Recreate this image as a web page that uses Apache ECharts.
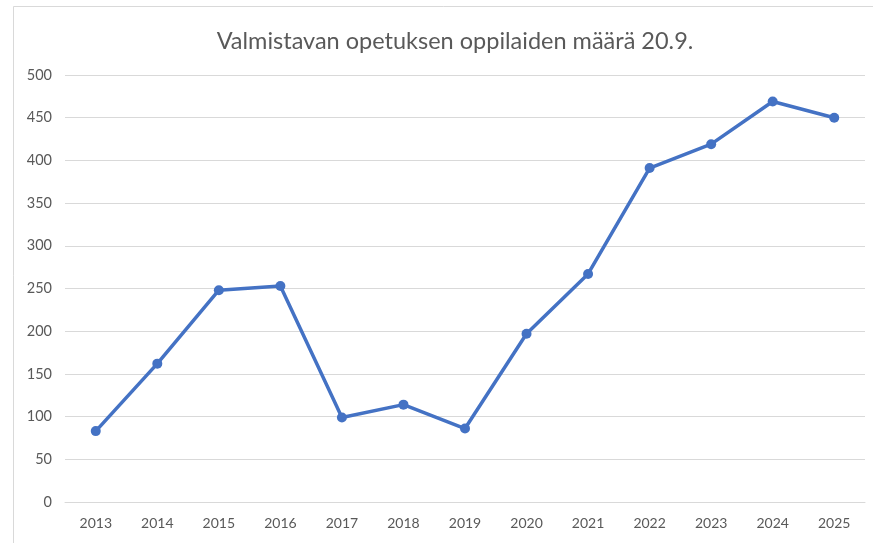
<!DOCTYPE html>
<html>
<head>
<meta charset="utf-8">
<script src="https://cdn.jsdelivr.net/npm/echarts@6/dist/echarts.min.js"></script>
<style>
  html, body { margin: 0; padding: 0; background: #fff; }
  #chart { width: 873px; height: 543px; }
</style>
</head>
<body>
<div id="chart"></div>
<script>
const years = ['2013', '2014', '2015', '2016', '2017', '2018', '2019', '2020', '2021', '2022', '2023', '2024', '2025']
const oppilaat = [83, 162, 248, 253, 99, 114, 86, 197, 267, 391, 419, 469, 450]

const mChart = echarts.init(document.getElementById('chart'))

const options = {
  backgroundColor: '#fff',
  animation: false,
  textStyle: { fontFamily: 'Lato' },
  // kehys
  graphic: [{
    type: 'rect',
    shape: { x: 13.5, y: 6.5, width: 900, height: 600 },
    style: { fill: 'none', stroke: '#d9d9d9', lineWidth: 1 },
    silent: true
  }],
  title: {
    text: 'Valmistavan opetuksen oppilaiden määrä 20.9.',
    left: 450,
    textAlign: 'center',
    top: 24,
    textStyle: { fontFamily: 'Lato', fontSize: 23.5, fontWeight: 'normal', color: '#595959' }
  },
  grid: { left: 65, right: 8, top: 75, bottom: 41 },
  xAxis: {
    type: 'category',
    data: years,
    boundaryGap: true,
    axisLine: { show: true, lineStyle: { color: '#d9d9d9', width: 1 } },
    axisTick: { show: false },
    axisLabel: { color: '#595959', fontSize: 14, margin: 14 }
  },
  yAxis: {
    type: 'value',
    min: 0,
    max: 500,
    interval: 50,
    axisLine: { show: false },
    axisTick: { show: false },
    axisLabel: { color: '#595959', fontSize: 14.5, margin: 13 },
    splitLine: { lineStyle: { color: '#d9d9d9', width: 1 } }
  },
  series: [{
    type: 'line',
    data: oppilaat,
    symbol: 'circle',
    symbolSize: 10,
    lineStyle: { color: '#4472C4', width: 3.5 },
    itemStyle: { color: '#4472C4' }
  }]
}

mChart.setOption(options)
</script>
</body>
</html>
